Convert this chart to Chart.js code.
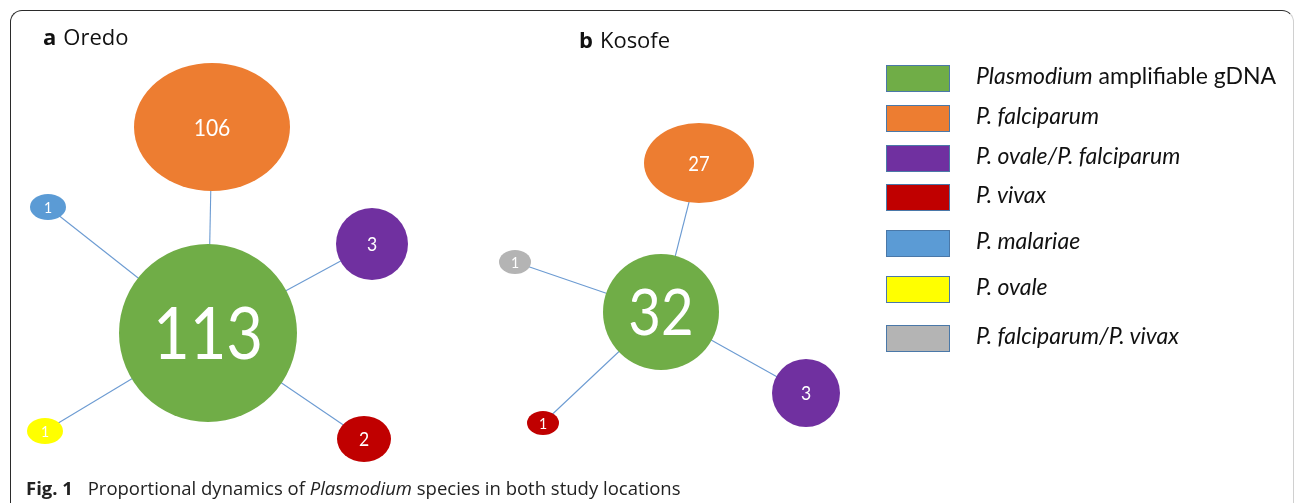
<!DOCTYPE html>
<html>
<head>
<meta charset="utf-8">
<script src="https://cdn.jsdelivr.net/npm/chart.js@4.4.1/dist/chart.umd.min.js"></script>
<style>
  body { margin: 0; background: #fff; width: 1295px; height: 503px; overflow: hidden; position: relative; font-family: Lato, sans-serif; }
  #frame { position: absolute; left: 10px; top: 10px; width: 1282px; height: 520px; border: 1.5px solid #2b2b2b; border-right-color: #d0d0d0; border-radius: 12px; }
  #wrap { position: absolute; left: 0; top: 0; width: 1295px; height: 503px; }
  .title { position: absolute; font-size: 22px; color: #111; font-family: "Open Sans", sans-serif; }
  .title b { font-weight: 700; margin-right: 7px; }
  .item { position: absolute; left: 886px; height: 27px; }
  .box { position: absolute; left: 0; top: 0; width: 62px; height: 25px; border: 1.5px solid #4a78a8; }
  .lbl { position: absolute; left: 90px; top: -4px; white-space: nowrap; font-size: 23px; color: #111; }
  .lbl i { font-style: italic; }
  #caption { position: absolute; left: 26px; top: 475px; font-size: 18.5px; color: #222; white-space: nowrap; font-family: "Open Sans", sans-serif; }
  #caption b { font-weight: 700; margin-right: 10px; }
</style>
</head>
<body>
<div id="frame"></div>
<div id="wrap"><canvas id="net" width="1295" height="503"></canvas></div>
<div class="title" style="left:43px; top:21px;"><b>a</b>Oredo</div>
<div class="title" style="left:579px; top:24px;"><b>b</b>Kosofe</div>
<div id="legend"></div>
<div id="caption"><b>Fig. 1</b> Proportional dynamics of <i>Plasmodium</i> species in both study locations</div>
<script>
// species groups (legend order)
const species = ["Plasmodium amplifiable gDNA", "P. falciparum", "P. ovale/P. falciparum",
  "P. vivax", "P. malariae", "P. ovale", "P. falciparum/P. vivax"];
const speciesColors = ["#70AD47", "#ED7D31", "#7030A0", "#C00000", "#5B9BD5", "#FFFF00", "#B4B4B4"];

// counts per location (0 = not detected)
const oredoCounts = [113, 106, 3, 2, 1, 1, 0];
const kosofeCounts = [32, 27, 3, 1, 0, 0, 1];

// node layout in diagram units
const oredoX = [208, 212, 372, 364, 48, 45, null];
const oredoY = [333, 127, 244, 439, 207, 431, null];
const kosofeX = [661, 699, 806, 543, null, null, 515];
const kosofeY = [312, 163, 393, 423, null, null, 262];

// ellipse half sizes and label font size per node
const oredoShape = [[89, 89, 72], [78, 64, 24], [36, 36, 20], [27, 23, 20], [18, 13, 16], [18, 13, 16]];
const kosofeShape = [[58, 58, 64], [55, 40, 21], [34, 34, 20], [16, 12, 16], null, null, [16, 12, 16]];

const legendTops = [65, 105, 145, 184, 230, 276, 325];

// legend
const legend = document.getElementById("legend");
species.forEach((s, i) => {
  let txt = "<i>" + s + "</i>";
  if (i === 0) txt = "<i>Plasmodium</i> amplifiable gDNA";
  legend.innerHTML += `<div class="item" style="top:${legendTops[i]}px">
    <div class="box" style="background:${speciesColors[i]}"></div>
    <div class="lbl">${txt}</div></div>`;
});

const makeNode = (color, count, shape) => {
  const [rx, ry, fs] = shape;
  const c = document.createElement("canvas");
  c.width = rx * 2 + 2;
  c.height = ry * 2 + 2;
  const g = c.getContext("2d");
  g.fillStyle = color;
  g.beginPath();
  g.ellipse(rx + 1, ry + 1, rx, ry, 0, 0, Math.PI * 2);
  g.fill();
  g.fillStyle = "#fff";
  g.font = `${fs}px Lato`;
  g.textAlign = "center";
  g.textBaseline = "alphabetic";
  // calibri-ish digits are narrower than Lato
  g.translate(rx + 1, ry + 1 + fs * 0.36);
  g.scale(0.88, 1);
  g.fillText(String(count), 0, 0);
  return c;
};

const datasets = [];
const addLocation = (counts, xs, ys, shapes) => {
  const pts = [];
  const styles = [];
  counts.forEach((n, i) => {
    if (!n) return;
    pts.push({ x: xs[i], y: ys[i] });
    styles.push(makeNode(speciesColors[i], n, shapes[i]));
    if (i > 0) {
      datasets.push({
        type: "line",
        data: [{ x: xs[0], y: ys[0] }, { x: xs[i], y: ys[i] }],
        borderColor: "#6c9bd2",
        borderWidth: 1.1,
        pointRadius: 0,
        fill: false,
        order: 2,
      });
    }
  });
  datasets.push({
    type: "scatter",
    data: pts,
    pointStyle: styles,
    order: 1,
  });
};
addLocation(oredoCounts, oredoX, oredoY, oredoShape);
addLocation(kosofeCounts, kosofeX, kosofeY, kosofeShape);

new Chart(document.getElementById("net"), {
  type: "scatter",
  data: { datasets: datasets },
  options: {
    responsive: false,
    animation: false,
    layout: { padding: 0, autoPadding: false },
    plugins: { legend: { display: false }, tooltip: { enabled: false } },
    scales: {
      x: { type: "linear", min: 0, max: 1295, display: false },
      y: { type: "linear", min: 0, max: 503, reverse: true, display: false },
    },
  },
});
</script>
</body>
</html>
